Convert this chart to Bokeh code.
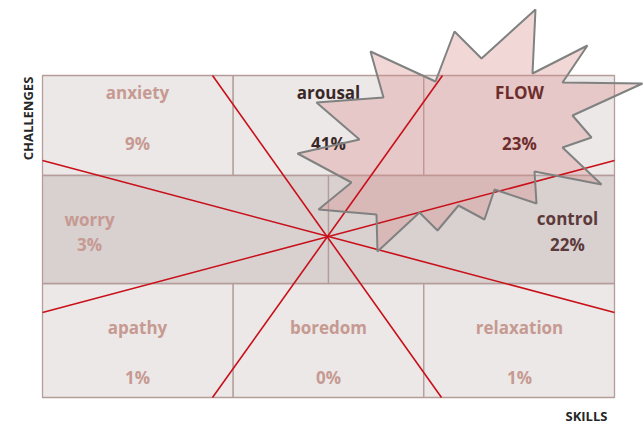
from bokeh.plotting import figure
from bokeh.models import Range1d, ColumnDataSource, Label
from bokeh.core.properties import value
from bokeh.embed import file_html
from bokeh.resources import INLINE

# ---- data ----
states = ["anxiety", "arousal", "FLOW", "worry", "control", "apathy", "boredom", "relaxation"]
shares = [9, 41, 23, 3, 22, 1, 0, 1]
x_axis_title = "SKILLS"
y_axis_title = "CHALLENGES"

# ---- layout (picture-pixel units, y downward) ----
COLS = [42, 232.7, 423.3, 614]
ROWS = [75, 175, 283, 397]
MID_X = 328

name_x = [137, 328, 519, 89, 567, 137, 328, 519]
name_y = [92, 92, 92, 219, 218, 327, 327, 327]
pct_y = [143, 143, 143, 244, 244, 377, 377, 377]

LIGHT = "#C69A92"
colors = [LIGHT, "#3A2828", "#6E2D2D", LIGHT, "#5C3A3A", LIGHT, LIGHT, LIGHT]

star_x = [535, 532, 587, 562, 642, 572, 591, 562, 601, 534, 536, 494, 484, 458, 437,
          419, 377, 376, 318, 351, 297, 359, 316, 383, 370, 435, 454, 481]
star_y = [9, 73, 45, 82, 83, 115, 137, 147, 184, 171, 203, 189, 219, 205, 230,
          212, 251, 214, 209, 182, 153, 139, 102, 97, 51, 81, 31, 58]

line_x0 = [212, 442, 42, 42]
line_y0 = [75, 75, 160, 312]
line_x1 = [441, 212, 614, 614]
line_y1 = [397, 397, 312, 160]

FONT = value("Open Sans")
W, H = 643, 423

p = figure(width=W, height=H, x_range=Range1d(0, W), y_range=Range1d(H, 0),
           output_backend="svg", toolbar_location=None,
           x_axis_location=None, y_axis_location=None, min_border=0)
p.grid.visible = False
p.outline_line_color = None
p.background_fill_color = "white"
p.border_fill_color = "white"

EDGE = "#B39C99"
LIGHT_FILL = "#ECE8E7"
BAND_FILL = "#D9D0D0"

cell_l, cell_r, cell_t, cell_b = [], [], [], []
for (t, b) in [(ROWS[0], ROWS[1]), (ROWS[2], ROWS[3])]:
    for i in range(3):
        cell_l.append(COLS[i]); cell_r.append(COLS[i + 1]); cell_t.append(t); cell_b.append(b)
p.quad(left=cell_l, right=cell_r, top=cell_t, bottom=cell_b,
       fill_color=LIGHT_FILL, line_color=EDGE, line_width=1.3)
p.quad(left=[COLS[0], MID_X], right=[MID_X, COLS[3]], top=[ROWS[1]] * 2, bottom=[ROWS[2]] * 2,
       fill_color=BAND_FILL, line_color=EDGE, line_width=1.3)

p.patch(star_x, star_y, fill_color="#D98C8C", fill_alpha=0.35, line_color=None)

p.segment(x0=line_x0, y0=line_y0, x1=line_x1, y1=line_y1, line_color="#C8101A", line_width=1.6)

src = ColumnDataSource(dict(x=name_x, y=name_y, yp=pct_y, name=states,
                            pct=[f"{v}%" for v in shares], color=colors))
p.text(x="x", y="y", text="name", source=src, text_color="color", text_font=FONT,
       text_font_style="bold", text_font_size="17px", text_align="center", text_baseline="middle")
p.text(x="x", y="yp", text="pct", source=src, text_color="color", text_font=FONT,
       text_font_style="bold", text_font_size="17px", text_align="center", text_baseline="middle")

p.patch(star_x, star_y, fill_color=None, line_color="#7F8280", line_width=2)

p.add_layout(Label(x=27, y=118, text=y_axis_title, angle=90, angle_units="deg",
                   text_font="Open Sans", text_font_style="bold", text_font_size="13px",
                   text_color="#262626", text_align="center", text_baseline="middle"))
p.add_layout(Label(x=586, y=415, text=x_axis_title,
                   text_font="Open Sans", text_font_style="bold", text_font_size="13px",
                   text_color="#262626", text_align="center", text_baseline="middle"))

open("out.html", "w").write(file_html(p, INLINE))
